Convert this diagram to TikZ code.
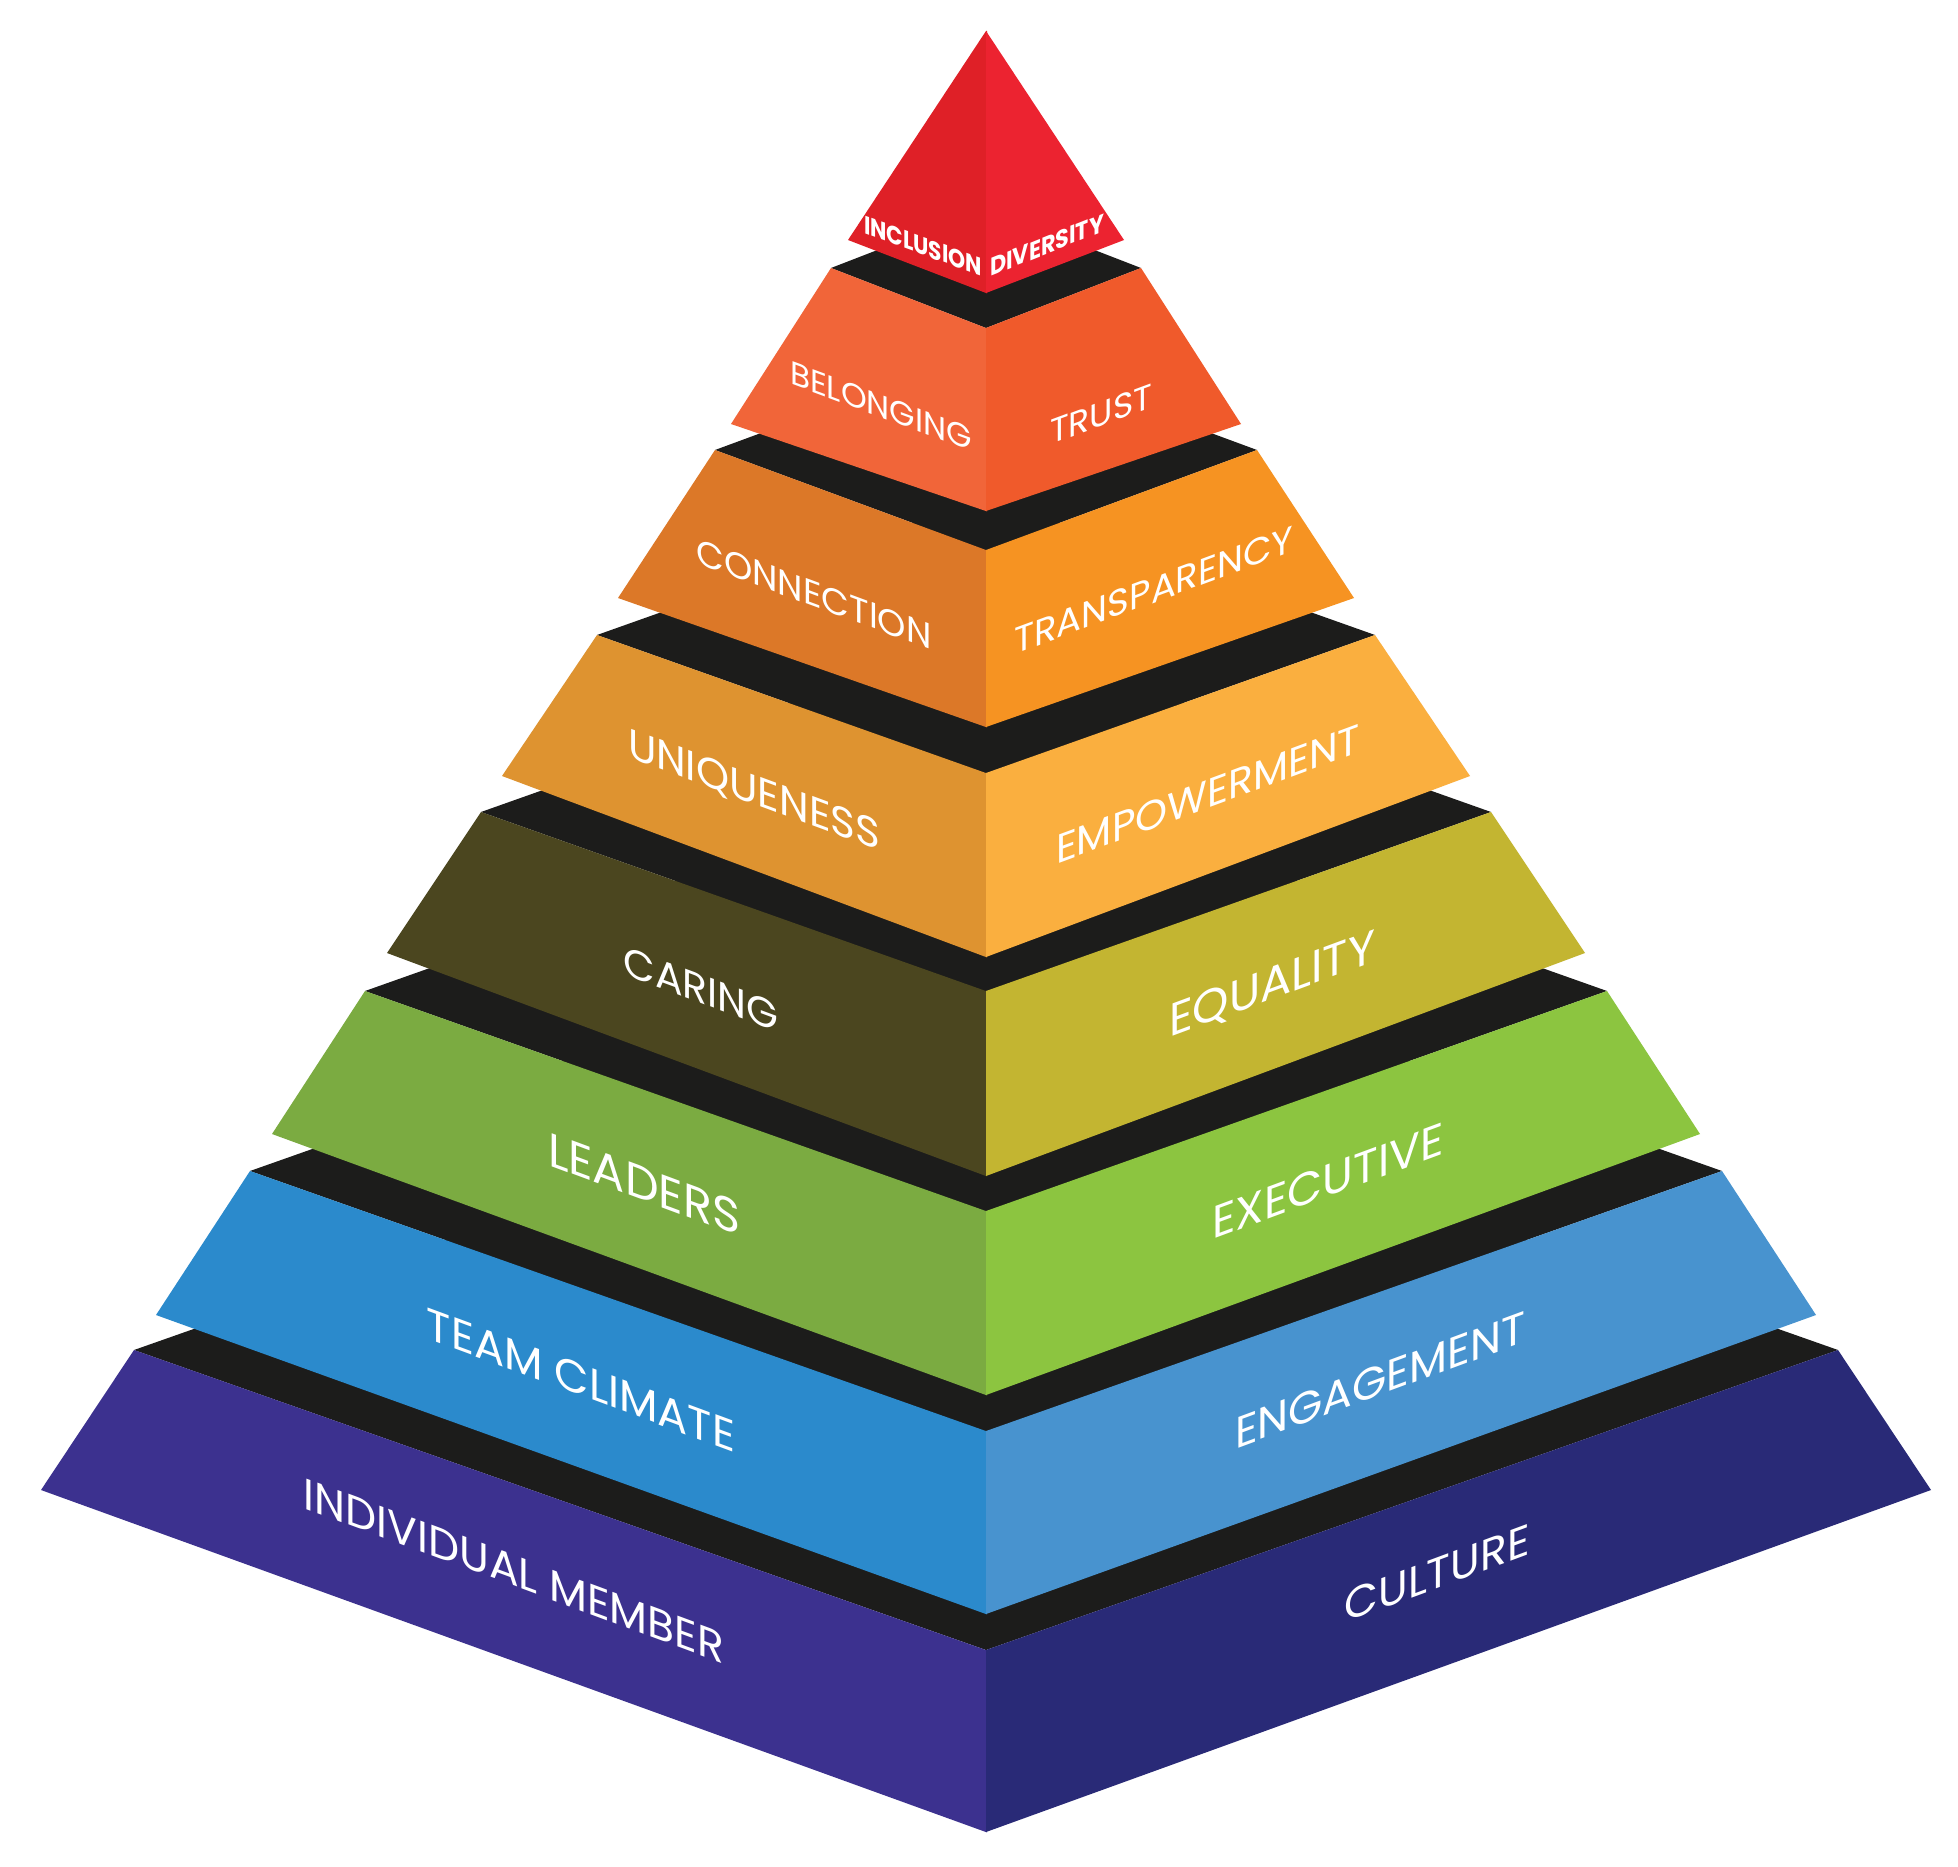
\documentclass[tikz,border=0pt]{standalone}
\usepackage{fontspec}
\setmainfont{Poppins}
\definecolor{blk}{HTML}{1C1C1B}
\definecolor{cAl}{HTML}{DF2027}
\definecolor{cAr}{HTML}{EC2330}
\definecolor{cBl}{HTML}{F16539}
\definecolor{cBr}{HTML}{F05A2B}
\definecolor{cCl}{HTML}{DC7828}
\definecolor{cCr}{HTML}{F69322}
\definecolor{cDl}{HTML}{DE9330}
\definecolor{cDr}{HTML}{FAAF3F}
\definecolor{cEl}{HTML}{4B461F}
\definecolor{cEr}{HTML}{C3B531}
\definecolor{cFl}{HTML}{7BAB41}
\definecolor{cFr}{HTML}{8CC540}
\definecolor{cGl}{HTML}{2B8ACC}
\definecolor{cGr}{HTML}{4893CF}
\definecolor{cHl}{HTML}{3C318F}
\definecolor{cHr}{HTML}{292A77}
% tier: TLx, TLy, TFy, BLx, BLy, BFy, left colour, right colour
\newcommand\tier[8]{%
  \fill[blk] (#1,#2) -- (986,#3) -- ({1972-#1},#2) -- (986,{2*#2-#3}) -- cycle;
  \fill[#7] (#1,#2) -- (987,{#3+0.4}) -- (987,{#6+0.4}) -- (#4,#5) -- cycle;
  \fill[#8] (986,#3) -- ({1972-#1},#2) -- ({1972-#4},#5) -- (986,#6) -- cycle;
}
\newcommand\lbltext[2]{\resizebox{#1pt}{!}{#2}}
\tikzset{
  lbl/.style={text=white, inner sep=0pt, font=\fontsize{40}{40}\selectfont},
  lf/.style={lbl, yslant=-0.37},
  rf/.style={lbl, yslant=0.37}
}
\begin{document}
\begin{tikzpicture}[x=1pt,y=-1pt]
\useasboundingbox (0,0) rectangle (1958,1867);
\fill[white] (0,0) rectangle (1958,1867);
% tiers, bottom to top
\tier{134}{1350}{1650}{41}{1490}{1832}{cHl}{cHr}
\tier{250}{1171}{1431}{156}{1315}{1614}{cGl}{cGr}
\tier{365}{991}{1211}{272}{1134}{1395}{cFl}{cFr}
\tier{481}{812}{991}{387}{953}{1176}{cEl}{cEr}
\tier{597}{635}{773}{502}{776}{957}{cDl}{cDr}
\tier{715}{450}{550}{618}{598}{727}{cCl}{cCr}
\tier{831}{268}{328}{731}{424}{511}{cBl}{cBr}
% apex
\fill[cAl] (986,31) -- (848,240) -- (987,293.4) -- (987,31) -- cycle;
\fill[cAr] (986,31) -- (1124,240) -- (986,293) -- cycle;
% labels
\node[lbl, yslant=-0.36] (inc) at (923,246) {\bfseries\resizebox{118pt}{18pt}{INCLUSION}};
\node[lbl, yslant=0.40] (div) at (1047,245) {\bfseries\resizebox{114pt}{18pt}{DIVERSITY}};
\node[lf] (bel) at (881,406) {\lbltext{182}{BELONGING}};
\node[rf] (tru) at (1101,414) {\lbltext{102}{TRUST}};
\node[lf] (con) at (814,594) {\lbltext{235}{CONNECTION}};
\node[rf] (tra) at (1154,590) {\lbltext{279}{TRANSPARENCY}};
\node[lf] (uni) at (754,792) {\lbltext{252}{UNIQUENESS}};
\node[rf] (emp) at (1208,794) {\lbltext{304}{EMPOWERMENT}};
\node[lf] (car) at (701,989) {\lbltext{155}{CARING}};
\node[rf] (equ) at (1272,986) {\lbltext{206}{EQUALITY}};
\node[lf] (lea) at (644,1184) {\lbltext{192}{LEADERS}};
\node[rf] (exe) at (1328,1181) {\lbltext{231}{EXECUTIVE}};
\node[lf] (tea) at (581,1380) {\lbltext{308}{TEAM CLIMATE}};
\node[rf] (eng) at (1380,1380) {\lbltext{290}{ENGAGEMENT}};
\node[lf] (ind) at (514,1571) {\lbltext{420}{INDIVIDUAL MEMBER}};
\node[rf] (cul) at (1437,1573) {\lbltext{185}{CULTURE}};
\end{tikzpicture}
\end{document}
